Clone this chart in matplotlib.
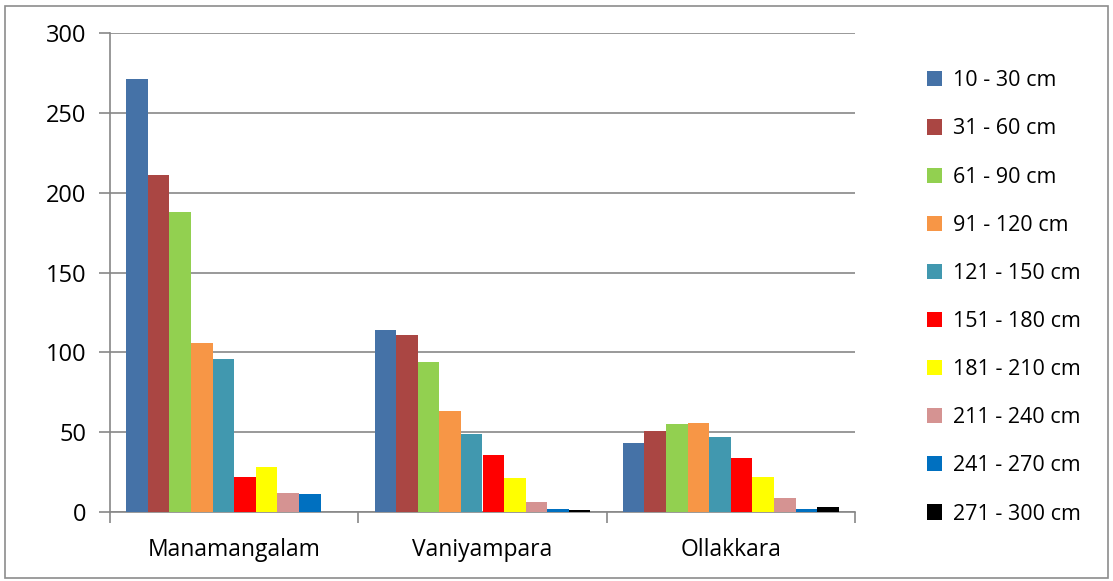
import matplotlib
matplotlib.use('Agg')
import matplotlib.pyplot as plt
from matplotlib.patches import Rectangle
import numpy as np

# Data
sites = ['Manamangalam', 'Vaniyampara', 'Ollakkara']
classes = ['10 - 30 cm', '31 - 60 cm', '61 - 90 cm', '91 - 120 cm', '121 - 150 cm',
           '151 - 180 cm', '181 - 210 cm', '211 - 240 cm', '241 - 270 cm', '271 - 300 cm']
manamangalam = [271, 211, 188, 106, 96, 22, 28, 12, 11, 0]
vaniyampara = [114, 111, 94, 63, 49, 36, 21, 6, 2, 1]
ollakkara = [43, 51, 55, 56, 47, 34, 22, 9, 2, 3]
colors = ['#4572A7', '#AA4643', '#92D050', '#F79646', '#4198AF',
          '#FF0000', '#FFFF00', '#D59392', '#0070C0', '#000000']

plt.rcParams['font.family'] = ['Open Sans', 'DejaVu Sans']

fig = plt.figure(figsize=(11.13, 5.81), dpi=100)
ax = fig.add_axes([110/1113, 69/581, 745/1113, 479/581])

values = np.array([manamangalam, vaniyampara, ollakkara])
x = np.arange(len(sites))
bw = 1 / 11.5
n = len(classes)
for i in range(n):
    offs = (i - (n - 1) / 2) * bw
    ax.bar(x + offs, values[:, i], width=bw, color=colors[i], label=classes[i],
           zorder=3, linewidth=0)

grid_c = '#878787'
ax.set_ylim(0, 300)
ax.set_xlim(-0.5, 2.5)
ax.set_yticks(range(0, 301, 50))
ax.yaxis.grid(True, color=grid_c, linewidth=1.2, zorder=0)
ax.set_xticks(x)
ax.set_xticklabels(sites)
ax.set_xticks([-0.5, 0.5, 1.5, 2.5], minor=True)
ax.tick_params(axis='x', which='major', length=0, pad=19, labelsize=16.5)
ax.tick_params(axis='x', which='minor', length=8, color=grid_c, width=1.2, direction='out')
ax.tick_params(axis='y', length=8, color=grid_c, width=1.2, pad=9, labelsize=17)
for s in ['top', 'right']:
    ax.spines[s].set_visible(False)
for s in ['left', 'bottom']:
    ax.spines[s].set_color(grid_c)
    ax.spines[s].set_linewidth(1.2)

leg = fig.legend(loc='upper left', bbox_to_anchor=(908/1113, 1 - 51/581), frameon=False,
                 fontsize=15.5, handlelength=0.7, handleheight=0.7, handletextpad=0.5,
                 labelspacing=1.26)

fig.patches.append(Rectangle((5/1113, 3/581), 1103/1113, 572/581, transform=fig.transFigure,
                             fill=False, edgecolor='#8c8c8c', linewidth=1.2))

fig.savefig('out.png', dpi=100, facecolor='white')
